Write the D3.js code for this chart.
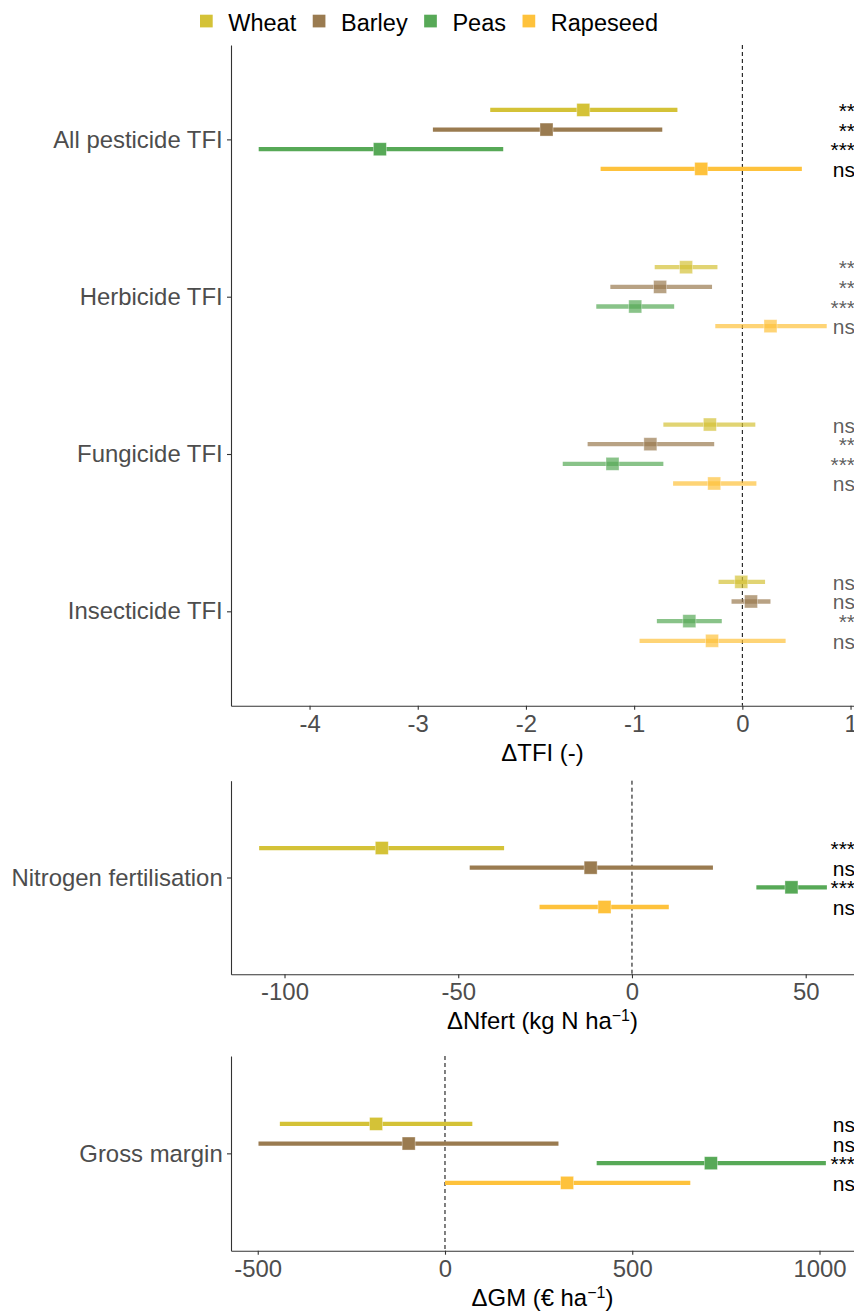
<!DOCTYPE html>
<html>
<head>
<meta charset="utf-8">
<script src="https://cdn.jsdelivr.net/npm/d3@7"></script>
<style>
  body { margin: 0; background: #fff; }
  text { font-family: "Liberation Sans", Arial, sans-serif; }
</style>
</head>
<body>
<div class="chart"></div>
<script>
// crops and colours
const crops = ["Wheat", "Barley", "Peas", "Rapeseed"];
const cropColors = ["#D4C237", "#9A7B50", "#57A957", "#FEC23C"];

// TFI panel, one row per indicator, one value per crop
const tfiIndicators = ["All pesticide TFI", "Herbicide TFI", "Fungicide TFI", "Insecticide TFI"];
const tfiMean = [
  [-1.47, -1.81, -3.35, -0.38],
  [-0.52, -0.76, -0.99, 0.26],
  [-0.30, -0.85, -1.20, -0.26],
  [-0.01, 0.08, -0.49, -0.28]
];
const tfiLow = [
  [-2.33, -2.86, -4.47, -1.31],
  [-0.81, -1.22, -1.35, -0.25],
  [-0.73, -1.43, -1.66, -0.64],
  [-0.22, -0.10, -0.79, -0.95]
];
const tfiHigh = [
  [-0.60, -0.74, -2.21, 0.55],
  [-0.23, -0.28, -0.63, 0.78],
  [0.12, -0.26, -0.73, 0.13],
  [0.21, 0.26, -0.19, 0.40]
];
const tfiSig = [
  ["**", "**", "***", "ns"],
  ["**", "**", "***", "ns"],
  ["ns", "**", "***", "ns"],
  ["ns", "ns", "**", "ns"]
];
const tfiTicks = [-4, -3, -2, -1, 0, 1];

// nitrogen fertilisation panel
const nMean = [-72.0, -11.9, 45.9, -7.9];
const nLow = [-107.3, -46.7, 35.8, -26.6];
const nHigh = [-36.8, 23.3, 56.1, 10.6];
const nSig = ["***", "ns", "***", "ns"];
const nTicks = [-100, -50, 0, 50];

// gross margin panel
const gmMean = [-184, -97, 710, 326];
const gmLow = [-441, -498, 405, 0];
const gmHigh = [73, 303, 1017, 655];
const gmSig = ["ns", "ns", "***", "ns"];
const gmTicks = [-500, 0, 500, 1000];

const width = 854, height = 1316;
const left = 231, right = 854;
const fontSize = 23.5;
const axisFont = 23.9;

const svg = d3.select("div.chart").append("svg")
  .attr("width", width)
  .attr("height", height);

// legend
let cursor = 200;
crops.forEach((crop, i) => {
  svg.append("rect")
    .attr("x", cursor).attr("y", 14.7)
    .attr("width", 12.7).attr("height", 12.7)
    .attr("fill", cropColors[i]);
  const label = svg.append("text")
    .attr("x", cursor + 28.3).attr("y", 30.7)
    .attr("font-size", fontSize)
    .attr("fill", "#000")
    .text(crop);
  cursor += 28.3 + label.node().getComputedTextLength() + 16.5;
});

function drawPanel(p) {
  const x = d3.scaleLinear().domain(p.xDomain).range([left, right]);
  const y = d3.scalePoint().domain(p.categories).range(p.yRange).padding(0.6);
  const dodge = d3.scaleBand().domain(crops).range([-39.3, 39.3]);

  const g = svg.append("g");

  // zero line
  g.append("line")
    .attr("x1", x(0)).attr("x2", x(0))
    .attr("y1", p.yRange[0]).attr("y2", p.yRange[1])
    .attr("stroke", "#000")
    .attr("stroke-width", 1)
    .attr("stroke-dasharray", "4,3");

  const rows = [];
  p.categories.forEach((cat, ci) => {
    crops.forEach((crop, k) => {
      rows.push({
        cat, crop, k,
        mean: p.means[ci][k], low: p.lows[ci][k], high: p.highs[ci][k],
        sig: p.sigs[ci][k], alpha: p.alphas[ci],
        yy: y(cat) + dodge(crop) + dodge.bandwidth() / 2
      });
    });
  });

  g.selectAll(".err")
    .data(rows)
    .enter().append("line")
    .attr("class", "err")
    .attr("x1", d => x(d.low))
    .attr("x2", d => x(d.high))
    .attr("y1", d => d.yy).attr("y2", d => d.yy)
    .attr("stroke", d => cropColors[d.k])
    .attr("stroke-opacity", d => d.alpha)
    .attr("stroke-width", 4.3);

  g.selectAll(".pt")
    .data(rows)
    .enter().append("rect")
    .attr("class", "pt")
    .attr("x", d => x(d.mean) - 6.5)
    .attr("y", d => d.yy - 6.5)
    .attr("width", 13).attr("height", 13)
    .attr("fill", d => cropColors[d.k])
    .attr("fill-opacity", d => d.alpha)
    .attr("stroke", "#fff")
    .attr("stroke-opacity", 0.45)
    .attr("stroke-width", 0.8);

  g.selectAll(".sig")
    .data(rows)
    .enter().append("text")
    .attr("class", "sig")
    .attr("x", 855)
    .attr("y", d => d.yy + 8)
    .attr("text-anchor", "end")
    .attr("font-size", 21)
    .attr("fill", "#000")
    .attr("fill-opacity", d => d.alpha < 1 ? 0.65 : 1)
    .text(d => d.sig);

  // axes
  const xAxis = g.append("g")
    .attr("transform", `translate(0,${p.yRange[1]})`)
    .call(d3.axisBottom(x).tickValues(p.ticks).tickFormat(d => String(d))
      .tickSize(4).tickSizeOuter(0).tickPadding(5.1));
  const yAxis = g.append("g")
    .attr("transform", `translate(${left},0)`)
    .call(d3.axisLeft(y).tickSize(4).tickSizeOuter(0).tickPadding(4.3));

  [xAxis, yAxis].forEach(a => {
    a.select(".domain").attr("stroke", "#333").attr("stroke-width", 1.1);
    a.selectAll(".tick line").attr("stroke", "#333").attr("stroke-width", 1.1);
    a.selectAll(".tick text")
      .attr("font-size", axisFont)
      .attr("fill", "#4D4D4D")
      .attr("font-family", "Liberation Sans, Arial, sans-serif");
  });

  const title = g.append("text")
    .attr("x", (left + right) / 2)
    .attr("y", p.yRange[1] + 55)
    .attr("text-anchor", "middle")
    .attr("font-size", axisFont)
    .attr("fill", "#000");
  title.append("tspan").text(p.title);
  if (p.titleSup) {
    title.append("tspan")
      .attr("font-size", 16)
      .attr("baseline-shift", "super")
      .text(p.titleSup);
    title.append("tspan").text(")");
  }
}

drawPanel({
  categories: tfiIndicators,
  means: tfiMean, lows: tfiLow, highs: tfiHigh, sigs: tfiSig,
  alphas: [1, 0.7, 0.7, 0.7],
  xDomain: [-4.726, 1.032],
  yRange: [45, 705.7],
  ticks: tfiTicks,
  title: "ΔTFI (-)"
});

drawPanel({
  categories: ["Nitrogen fertilisation"],
  means: [nMean], lows: [nLow], highs: [nHigh], sigs: [nSig],
  alphas: [1],
  xDomain: [-115.4, 63.9],
  yRange: [780.7, 974.3],
  ticks: nTicks,
  title: "ΔNfert (kg N ha",
  titleSup: "−1"
});

drawPanel({
  categories: ["Gross margin"],
  means: [gmMean], lows: [gmLow], highs: [gmHigh], sigs: [gmSig],
  alphas: [1],
  xDomain: [-571.4, 1092.1],
  yRange: [1056, 1250.7],
  ticks: gmTicks,
  title: "ΔGM (€ ha",
  titleSup: "−1"
});
</script>
</body>
</html>
